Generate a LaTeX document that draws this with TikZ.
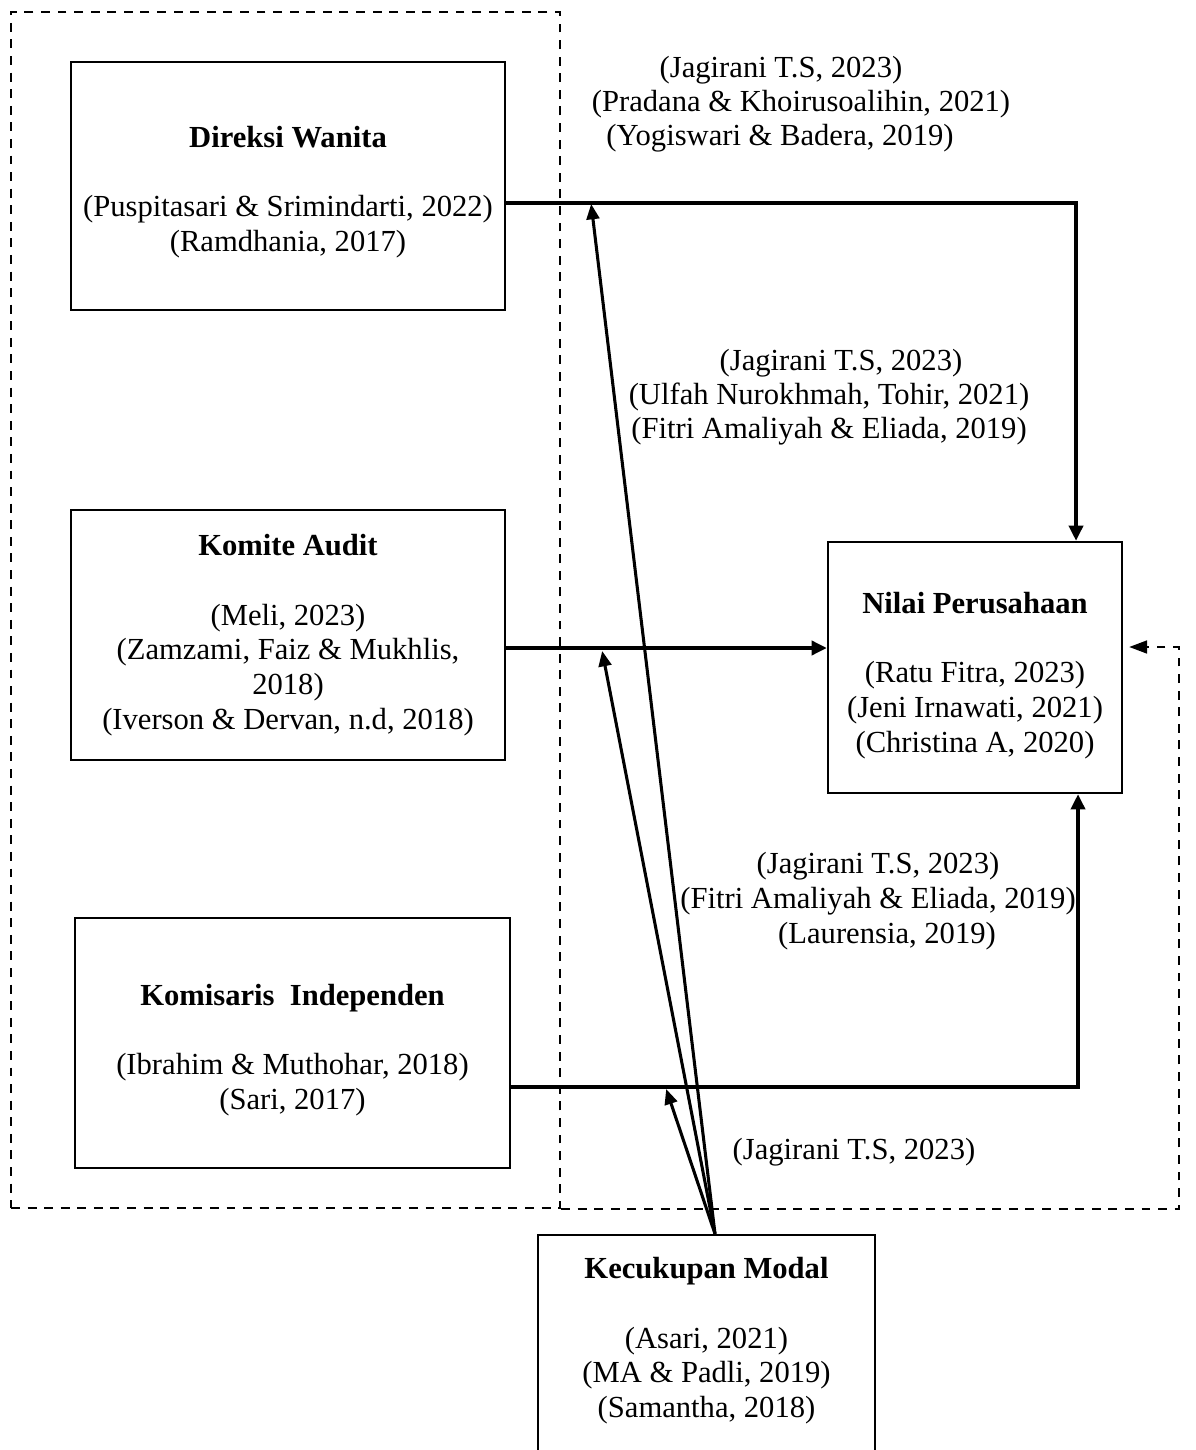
\documentclass[tikz,border=0pt]{standalone}
\usepackage{fontspec}
\setmainfont{Liberation Serif}
\usetikzlibrary{arrows.meta,calc}
\def\pxu{0.392pt}
\begin{document}
\begin{tikzpicture}[x=0.392pt,y=-0.392pt,
  box/.style={draw,line width=0.9pt,align=center,font=\fontsize{12}{13.6}\selectfont,inner sep=0pt},
  lbl/.style={font=\fontsize{12}{13.6}\selectfont,inner sep=0pt},
  grpbox/.style={draw,line width=0.9pt,dash pattern=on 3.5pt off 3pt,inner sep=0pt},
  conn/.style={line width=1.6pt,-{Triangle[length=6pt,width=5.5pt]}},
  mconn/.style={line width=1.2pt,-{Triangle[length=6pt,width=5pt]}},
  dconn/.style={line width=0.9pt,dash pattern=on 3.5pt off 3pt,-{Triangle[length=7pt,width=5pt]}}]
\useasboundingbox (0,0) rectangle (1195,1450);
% group
\node[grpbox,minimum width=549*\pxu,minimum height=1196*\pxu] (grp) at (285.5,610) {};
% boxes
\node[box,minimum width=434*\pxu,minimum height=248*\pxu] (dw) at (288,186)
  {\rule{0pt}{13pt}\textbf{Direksi Wanita}\\ ~\\(Puspitasari \& Srimindarti, 2022)\\(Ramdhania, 2017)};
\node[box,minimum width=434*\pxu,minimum height=250*\pxu] (ka) at (288,635)
  {\textbf{Komite Audit}\\ ~\\(Meli, 2023)\\(Zamzami, Faiz \& Mukhlis,\\2018)\\(Iverson \& Dervan, n.d, 2018)};
\node[box,minimum width=435*\pxu,minimum height=250*\pxu] (ki) at (292.5,1043)
  {\rule{0pt}{14pt}\textbf{Komisaris\ \ Independen}\\ ~\\(Ibrahim \& Muthohar, 2018)\\(Sari, 2017)};
\node[box,minimum width=294*\pxu,minimum height=251*\pxu] (np) at (975,667.5)
  {\rule{0pt}{14.5pt}\textbf{Nilai Perusahaan}\\ ~\\(Ratu Fitra, 2023)\\(Jeni Irnawati, 2021)\\(Christina A, 2020)};
\node[box,minimum width=337*\pxu,minimum height=240*\pxu] (km) at (706.5,1355)
  {\textbf{Kecukupan Modal}\\ ~\\(Asari, 2021)\\(MA \& Padli, 2019)\\(Samantha, 2018)\\ ~};
% labels
\node[lbl] (l1a) at (781,70) {(Jagirani T.S, 2023)};
\node[lbl] (l1b) at (801,104) {(Pradana \& Khoirusoalihin, 2021)};
\node[lbl] (l1c) at (780,138) {(Yogiswari \& Badera, 2019)};
\node[lbl] (l2a) at (841,363) {(Jagirani T.S, 2023)};
\node[lbl] (l2b) at (829,397) {(Ulfah Nurokhmah, Tohir, 2021)};
\node[lbl] (l2c) at (829,431) {(Fitri Amaliyah \& Eliada, 2019)};
\node[lbl] (l3a) at (878,866) {(Jagirani T.S, 2023)};
\node[lbl] (l3b) at (878,901) {(Fitri Amaliyah \& Eliada, 2019)};
\node[lbl] (l3c) at (887,936) {(Laurensia, 2019)};
\node[lbl] (l4a) at (854,1152) {(Jagirani T.S, 2023)};
% connectors
\draw[conn] ([yshift=-17*\pxu]dw.east) coordinate (dwout) -| ([xshift=101*\pxu]np.north);
\draw[conn] ([yshift=-13*\pxu]ka.east) coordinate (kaout) -- (kaout -| np.west);
\draw[conn] ([yshift=-44*\pxu]ki.east) coordinate (kiout) -| ([xshift=103*\pxu]np.south);
\coordinate (kmtop) at ([xshift=8.5*\pxu]km.north);
\draw[mconn] (kmtop) -- ($(dwout)+(85,1)$);
\draw[mconn] (kmtop) -- ($(kaout)+(96,3)$);
\draw[mconn] (kmtop) -- ($(kiout)+(155,2)$);
\draw[dconn] (grp.south east) -- ++(618,0) |- ([xshift=6*\pxu,yshift=20.5*\pxu]np.east);
\end{tikzpicture}
\end{document}
